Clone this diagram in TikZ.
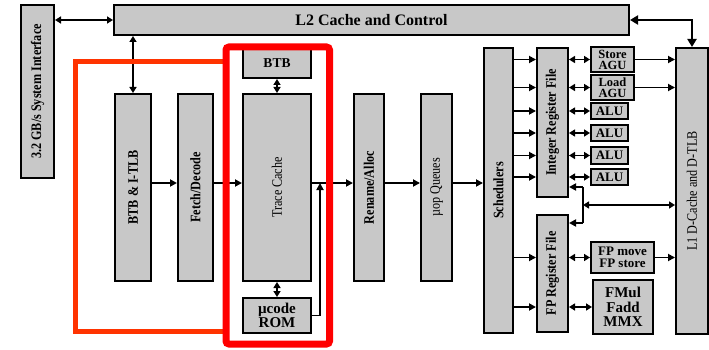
\documentclass[tikz,border=0pt]{standalone}
\usepackage{fontspec}
\setmainfont{Liberation Serif}
\usetikzlibrary{arrows.meta}
\definecolor{boxgray}{HTML}{C8C8C8}
\definecolor{hotred}{HTML}{FF0000}
\definecolor{orred}{HTML}{FF3300}
\tikzset{
  box/.style={draw=black, fill=boxgray, line width=2pt, inner sep=0pt, anchor=north west, align=center},
  conn/.style={line width=1.9pt},
  arr/.style={conn, -{Triangle[length=7pt,width=7pt]}},
  darr/.style={conn, {Triangle[length=6pt,width=7pt]}-{Triangle[length=6pt,width=7pt]}},
  bigarr/.style={line width=2.8pt, {Triangle[length=8pt,width=9pt]}-{Triangle[length=8pt,width=9pt]}},
}
\newcommand\vtxt[1]{\rotatebox{90}{\scalebox{0.84}[1]{\fontsize{14.5}{14.5}\selectfont #1}}}
\newcommand\vtxb[1]{\vtxt{\bfseries #1}}
\begin{document}
\begin{tikzpicture}[x=1pt,y=-1pt]
\useasboundingbox (0,0) rectangle (709,350);
% boxes
\node[box, minimum width=33pt, minimum height=173pt] (sys) at (20,4) {\vtxb{3.2 GB/s System Interface}};
\node[box, minimum width=515pt, minimum height=30pt, font=\fontsize{16}{16}\selectfont\bfseries] (l2) at (113,4) {L2 Cache and Control};
\node[box, minimum width=36pt, minimum height=187pt] (btbitlb) at (114,93) {\vtxb{BTB \& I-TLB}};
\node[box, minimum width=35pt, minimum height=187pt] (fetch) at (177,93) {\vtxb{Fetch/Decode}};
\node[box, minimum width=68pt, minimum height=187pt] (trace) at (242,93) {\vtxt{Trace Cache}};
\node[box, minimum width=68pt, minimum height=30pt, font=\fontsize{13.5}{13.5}\selectfont\bfseries] (btb) at (242,47) {BTB};
\node[box, minimum width=68pt, minimum height=35pt, font=\fontsize{15}{14.5}\selectfont\bfseries] (rom) at (242,297) {µcode\\ROM};
\node[box, minimum width=30pt, minimum height=187pt] (rename) at (353,93) {\vtxb{Rename/Alloc}};
\node[box, minimum width=31pt, minimum height=187pt] (uop) at (420,93) {\vtxt{µop Queues}};
\node[box, minimum width=29pt, minimum height=285pt] (sched) at (483,47) {\vtxb{Schedulers}};
\node[box, minimum width=31pt, minimum height=149pt] (irf) at (536,47) {\vtxb{Integer Register File}};
\node[box, minimum width=43pt, minimum height=25pt, font=\fontsize{12.5}{11}\selectfont\bfseries] (sagu) at (590,46) {Store\\AGU};
\node[box, minimum width=43pt, minimum height=25pt, font=\fontsize{12.5}{11}\selectfont\bfseries] (lagu) at (590,74) {Load\\AGU};
\node[box, minimum width=37pt, minimum height=16pt, font=\fontsize{13}{13}\selectfont\bfseries] (alua) at (590,102) {ALU};
\node[box, minimum width=37pt, minimum height=16pt, font=\fontsize{13}{13}\selectfont\bfseries] (alub) at (590,124) {ALU};
\node[box, minimum width=37pt, minimum height=17pt, font=\fontsize{13}{13}\selectfont\bfseries] (aluc) at (590,146) {ALU};
\node[box, minimum width=37pt, minimum height=16pt, font=\fontsize{13}{13}\selectfont\bfseries] (alud) at (590,168) {ALU};
\node[box, minimum width=32pt, minimum height=286pt] (l1) at (675,47) {\vtxt{L1 D-Cache and D-TLB}};
\node[box, minimum width=31pt, minimum height=117pt] (fprf) at (536,214) {\vtxb{FP Register File}};
\node[box, minimum width=63pt, minimum height=31pt, font=\fontsize{13}{12}\selectfont\bfseries] (fpmove) at (590,241) {FP move\\FP store};
\node[box, minimum width=60pt, minimum height=54pt, font=\fontsize{15}{14.5}\selectfont\bfseries] (fmul) at (592,279) {FMul\\Fadd\\MMX};
% coordinates
\coordinate (flow) at (0,183);
\coordinate (join) at (320,183);
\coordinate (bustop) at (583,187);
\coordinate (busmid) at (583,205);
\coordinate (busbot) at (583,223);
% connectors
\draw[darr] (sys.east |- l2.west) -- (l2.west);
\draw[darr] (l2.south -| btbitlb.north) -- (btbitlb.north);
\draw[bigarr] (l2.east) -| (l1.north);
\draw[arr] (btbitlb.east |- flow) -- (fetch.west |- flow);
\draw[arr] (fetch.east |- flow) -- (trace.west |- flow);
\draw[arr] (trace.east |- flow) -- (rename.west |- flow);
\draw[arr] (rename.east |- flow) -- (uop.west |- flow);
\draw[arr] (uop.east |- flow) -- (sched.west |- flow);
\draw[darr] (btb.south) -- (trace.north);
\draw[darr] (trace.south) -- (rom.north);
\draw[arr] (rom.east) -| (join);
% schedulers to integer register file and units
\foreach \u in {sagu,lagu,alua,alub,aluc,alud}{
  \draw[arr] (sched.east |- \u.west) -- (irf.west |- \u.west);
  \draw[darr] (irf.east |- \u.west) -- (\u.west);
}
\draw[arr] (sagu.east) -- (l1.west |- sagu.east);
\draw[arr] (lagu.east) -- (l1.west |- lagu.east);
% bus between register files and L1
\draw[conn] (bustop) -- (busbot);
\draw[arr] (bustop) -- (irf.east |- bustop);
\draw[arr] (busbot) -- (fprf.east |- busbot);
\draw[darr] (busmid) -- (l1.west |- busmid);
% FP side
\draw[arr] (sched.east |- fpmove.west) -- (fprf.west |- fpmove.west);
\draw[arr] (sched.east |- fmul.west) -- (fprf.west |- fmul.west);
\draw[darr] (fprf.east |- fpmove.west) -- (fpmove.west);
\draw[darr] (fprf.east |- fmul.west) -- (fmul.west);
\draw[arr] (fpmove.east) -- (l1.west |- fpmove.east);
% highlight frames
\draw[orred, line width=5pt] (226,62) -- (75.5,62) -- (75.5,331) -- (226,331);
\draw[hotred, line width=7pt, rounded corners=3pt] (226,47) rectangle (329.5,344);
\end{tikzpicture}
\end{document}
